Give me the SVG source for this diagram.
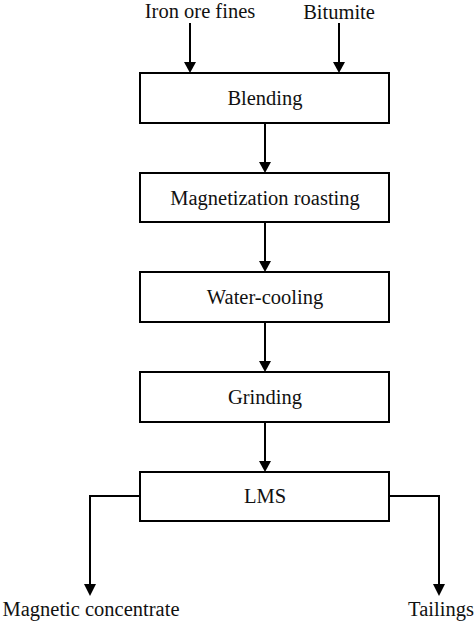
<svg xmlns="http://www.w3.org/2000/svg" width="474" height="621" viewBox="0 0 474 621">
<style>
.box{fill:#fff;stroke:#000;stroke-width:2}
.t{font-family:"Liberation Serif","Times New Roman",serif;font-size:20.5px;fill:#111;text-anchor:middle}
.c{fill:none;stroke:#000;stroke-width:2}
</style>
<rect width="474" height="621" fill="#fff"/>
<g id="connectors">
<line class="c" x1="190" y1="23" x2="190" y2="62"/>
<path d="M184,62 L196,62 L190,73 Z"/>
<line class="c" x1="339" y1="23" x2="339" y2="62"/>
<path d="M333,62 L345,62 L339,73 Z"/>
<line class="c" x1="265" y1="123" x2="265" y2="162"/>
<path d="M259,162 L271,162 L265,173 Z"/>
<line class="c" x1="265" y1="222" x2="265" y2="261"/>
<path d="M259,261 L271,261 L265,272 Z"/>
<line class="c" x1="265" y1="322" x2="265" y2="361"/>
<path d="M259,361 L271,361 L265,372 Z"/>
<line class="c" x1="265" y1="422" x2="265" y2="461"/>
<path d="M259,461 L271,461 L265,472 Z"/>
<polyline class="c" points="140,496 90,496 90,584"/>
<path d="M84,584 L96,584 L90,596 Z"/>
<polyline class="c" points="389,496 439,496 439,584"/>
<path d="M433,584 L445,584 L439,596 Z"/>
</g>
<g id="label-iron"><text class="t" x="200" y="17.5">Iron ore fines</text></g>
<g id="label-bitumite"><text class="t" x="339" y="18.5">Bitumite</text></g>
<g id="node-blending"><rect class="box" x="140" y="73" width="249" height="50"/><text class="t" x="265" y="105">Blending</text></g>
<g id="node-magnetization"><rect class="box" x="140" y="173" width="249" height="49"/><text class="t" x="265" y="205">Magnetization roasting</text></g>
<g id="node-water"><rect class="box" x="140" y="272" width="249" height="50"/><text class="t" x="265" y="304">Water-cooling</text></g>
<g id="node-grinding"><rect class="box" x="140" y="372" width="249" height="50"/><text class="t" x="265" y="404">Grinding</text></g>
<g id="node-lms"><rect class="box" x="140" y="472" width="249" height="49"/><text class="t" x="265" y="503">LMS</text></g>
<g id="label-magnetic"><text class="t" x="91" y="616">Magnetic concentrate</text></g>
<g id="label-tailings"><text class="t" x="441" y="616">Tailings</text></g>
</svg>
